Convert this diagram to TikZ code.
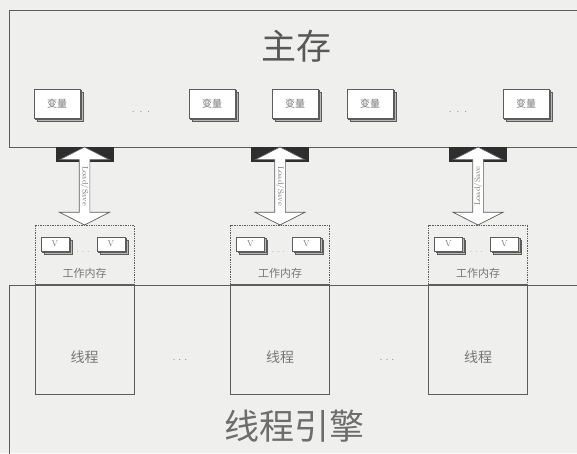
\documentclass[tikz,border=0pt]{standalone}
\usepackage{fontspec}
\newfontfamily\cjk{Noto Sans CJK SC}
\usetikzlibrary{shapes.arrows,shadows}
\definecolor{bg}{HTML}{EFEFED}
\definecolor{ln}{HTML}{5C5C5C}
\definecolor{tx}{HTML}{777777}
\definecolor{dk}{HTML}{2E2E2E}
\begin{document}
\begin{tikzpicture}[x=1pt,y=-1pt,
  varbox/.style={draw=ln, fill=white, line width=0.8pt, minimum width=46pt, minimum height=29pt, inner sep=0pt,
    double copy shadow={shadow xshift=1.8pt, shadow yshift=-1.8pt, fill=gray!55, draw=ln},
    font=\cjk\fontsize{10}{12}\selectfont, text=tx},
  vbox/.style={draw=ln, fill=white, line width=0.7pt, minimum width=28pt, minimum height=14pt, inner sep=0pt,
    double copy shadow={shadow xshift=1.6pt, shadow yshift=-1.6pt, fill=gray!55, draw=ln},
    font=\fontsize{8.5}{9}\selectfont, text=tx},
  dots/.style={text=tx, font=\fontsize{10}{12}\selectfont, inner sep=0pt, anchor=base},
  wmbox/.style={draw=ln, densely dotted, line width=0.7pt, minimum width=99pt, minimum height=59pt, inner sep=0pt},
  thbox/.style={draw=ln, line width=0.8pt, minimum width=99pt, minimum height=110pt, inner sep=0pt},
  lsarrow/.style={double arrow, draw=ln, fill=white, line width=0.7pt, minimum width=21pt, minimum height=78pt,
    double arrow head extend=19.5pt, double arrow tip angle=126, inner sep=1pt,
    font=\fontsize{8}{9}\selectfont, text=tx},
  headbar/.style={fill=dk, minimum width=58pt, minimum height=15pt, inner sep=0pt},
  smalllabel/.style={text=tx, font=\cjk\fontsize{11}{13}\selectfont, inner sep=0pt},
  thlabel/.style={text=tx, font=\cjk\fontsize{14}{16}\selectfont, inner sep=0pt},
  biglabel/.style={text=dk!80, font=\cjk\fontsize{35}{40}\selectfont, inner sep=0pt}
]
\useasboundingbox (0,0) rectangle (577,453);
\fill[bg] (0,0) rectangle (577,453);

% main memory
\draw[ln, line width=0.9pt] (590,10) -- (9,10) -- (9,147) -- (590,147);
\node[biglabel] (zc) at (296,46) {主存};
\node[varbox] (v1) at (57,103.5) {变量};
\node[varbox] (v2) at (212,103.5) {变量};
\node[varbox] (v3) at (295,103.5) {变量};
\node[varbox] (v4) at (370,103.5) {变量};
\node[varbox] (v5) at (526,103.5) {变量};
\node[dots] (d1) at (141,112) {.\hspace{5pt}.\hspace{5pt}.};
\node[dots] (d2) at (458,112) {.\hspace{5pt}.\hspace{5pt}.};

% thread engine
\draw[ln, line width=0.9pt] (9,460) -- (9,285) -- (590,285);
\node[biglabel, text=dk!70] (eng) at (294,426) {线程引擎};

% three thread columns
\foreach \i/\cx/\rot in {1/84.5/-90, 2/280/-90, 3/478/90} {
  \node[wmbox] (wm\i) at (\cx,254.5) {};
  \node[thbox] (th\i) at (\cx,339) {};
  \node[vbox] (va\i) at (\cx-29.5,244) {V};
  \node[vbox] (vb\i) at (\cx+26.5,244) {V};
  \node[dots, font=\fontsize{8}{9}\selectfont] (vd\i) at (\cx-1.5,252) {.\hspace{3pt}.\hspace{3pt}.};
  \node[smalllabel] (wl\i) at (\cx,273) {工作内存};
  \node[thlabel] (tl\i) at (\cx,357) {线程};
  \node[headbar, anchor=north] (hb\i) at (\cx,147) {};
  \node[lsarrow, rotate=\rot] (ar\i) at (\cx,186) {Load/Save};
}
\node[dots, font=\fontsize{11}{12}\selectfont] (td1) at (180,360) {.\hspace{3pt}.\hspace{3pt}.};
\node[dots, font=\fontsize{11}{12}\selectfont] (td2) at (387,360) {.\hspace{3pt}.\hspace{3pt}.};
\end{tikzpicture}
\end{document}
